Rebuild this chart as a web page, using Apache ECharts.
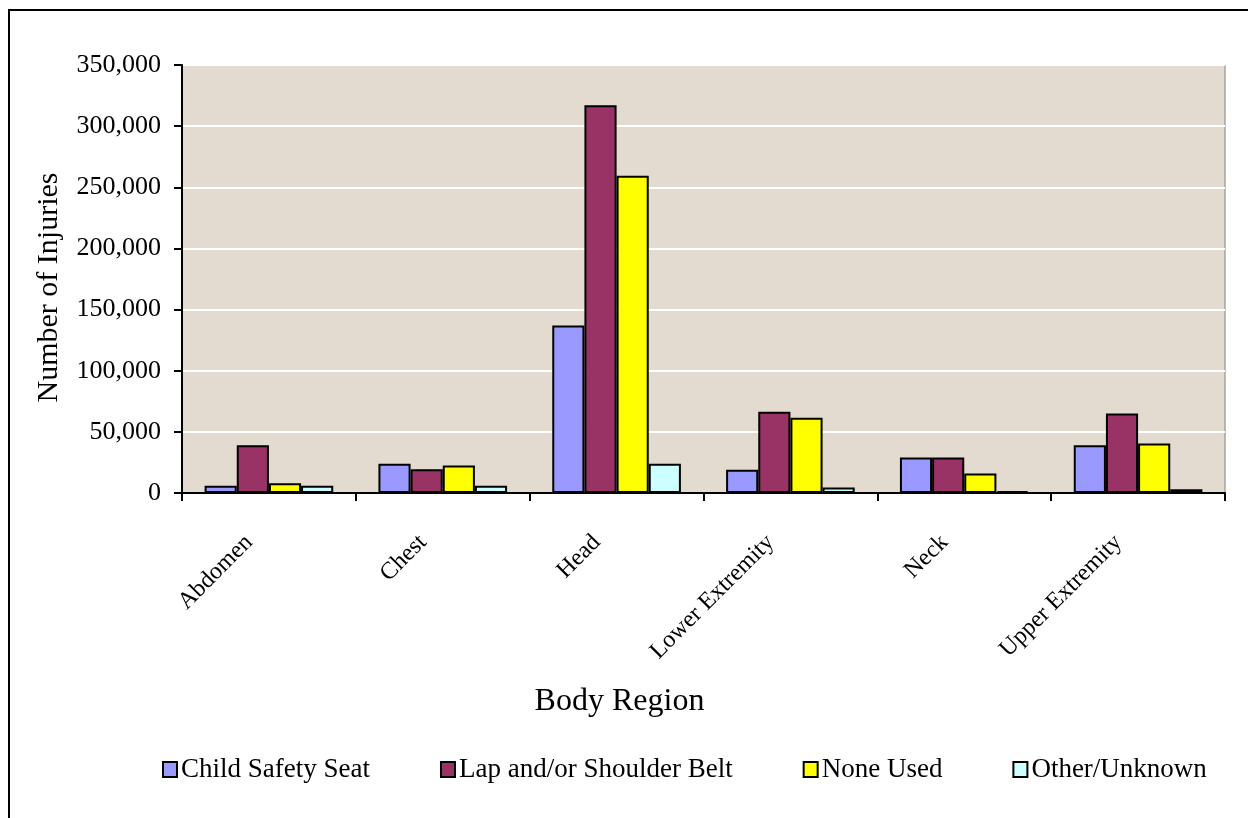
<!DOCTYPE html>
<html><head><meta charset="utf-8">
<script src="https://cdn.jsdelivr.net/npm/echarts@6/dist/echarts.min.js"></script>
<style>html,body{margin:0;padding:0;background:#fff}#c{width:1248px;height:818px}</style>
</head><body><div id="c"></div>
<script>
const categories = ['Abdomen','Chest','Head','Lower Extremity','Neck','Upper Extremity'];
const seriesNames = ['Child Safety Seat','Lap and/or Shoulder Belt','None Used','Other/Unknown'];
const childSafetySeat = [6000, 24000, 137000, 19000, 29000, 39000];
const lapShoulderBelt = [39000, 19500, 317000, 66500, 29000, 65000];
const noneUsed = [8000, 22500, 259500, 61500, 16000, 40500];
const otherUnknown = [6000, 6000, 24000, 4500, 1500, 3000];
const yTicks = [0, 50000, 100000, 150000, 200000, 250000, 300000, 350000];
const colors = ['#9999FF','#993366','#FFFF00','#CCFFFF'];
const font = '"Liberation Serif","Times New Roman",serif';
const chart = echarts.init(document.getElementById('c'));
const data = [childSafetySeat, lapShoulderBelt, noneUsed, otherUnknown];
chart.setOption({
  animation:false,
  textStyle:{fontFamily:font,color:'#000'},
  graphic:[{type:'rect',shape:{x:9,y:10,width:1260,height:830},style:{fill:'none',stroke:'#000',lineWidth:2},z:-1}],
  grid:{left:182,right:23,top:65,bottom:325,containLabel:false,backgroundColor:'#E3DBCF',show:true,borderColor:'#808080',borderWidth:1},
  legend:{top:751,left:157,itemGap:70,itemWidth:14,itemHeight:15,icon:'rect',
    textStyle:{fontFamily:font,fontSize:27,color:'#000',padding:[0,0,0,-1]},
    data:seriesNames.map(n=>({name:n,itemStyle:{borderColor:'#000',borderWidth:2}}))},
  xAxis:{type:'category',data:categories,
    name:'Body Region',nameLocation:'middle',nameGap:193,
    nameTextStyle:{fontFamily:font,fontSize:32,color:'#000',padding:[0,168,0,0]},
    axisLine:{lineStyle:{color:'#000',width:2}},
    axisTick:{show:true,alignWithLabel:false,length:8,lineStyle:{color:'#000',width:2}},
    axisLabel:{rotate:45,fontFamily:font,fontSize:24,color:'#000',margin:26,interval:0,padding:[0,28,0,0]}},
  yAxis:{type:'value',min:0,max:350000,interval:50000,
    name:'Number of Injuries',nameLocation:'middle',nameGap:118,
    nameTextStyle:{fontFamily:font,fontSize:30,color:'#000',padding:[0,17,0,0]},
    axisLine:{show:true,lineStyle:{color:'#000',width:2}},
    axisTick:{show:true,length:8,lineStyle:{color:'#000',width:2}},
    axisLabel:{fontFamily:font,fontSize:26,color:'#000',margin:21,
      formatter:v=>yTicks.includes(v)?v.toLocaleString('en-US'):''},
    splitLine:{show:true,lineStyle:{color:'#FFFFFF',width:2}}},
  series:seriesNames.map((n,i)=>({name:n,type:'bar',data:data[i],barGap:'0%',barCategoryGap:'26%',
    itemStyle:{color:colors[i],borderColor:'#000',borderWidth:2}}))
});
</script></body></html>
